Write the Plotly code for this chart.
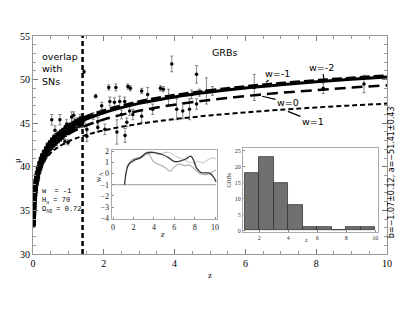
import plotly.graph_objects as go

# ---------------- data ----------------
model_z = [0.01, 0.02, 0.05, 0.1, 0.2, 0.3, 0.5, 0.7, 1.0, 1.4, 2, 3, 4, 5, 6, 7, 8, 9, 10]
mu_w_m1 = [33.43, 34.95, 36.99, 38.57, 40.23, 41.22, 42.51, 43.38, 44.35, 45.29, 46.2, 47.27, 48.01, 48.57, 49.03, 49.41, 49.74, 50.03, 50.29]
mu_w_m2 = [33.44, 34.97, 37.03, 38.64, 40.36, 41.40, 42.75, 43.63, 44.60, 45.52, 46.41, 47.45, 48.17, 48.72, 49.17, 49.54, 49.87, 50.15, 50.41]
mu_w_0 = [33.41, 34.93, 36.93, 38.46, 40.01, 40.93, 42.11, 42.90, 43.75, 44.57, 45.43, 46.42, 47.12, 47.67, 48.11, 48.48, 48.80, 49.09, 49.34]
mu_w_1 = [33.35, 34.85, 36.83, 38.30, 39.74, 40.57, 41.59, 42.23, 42.90, 43.52, 44.18, 44.93, 45.47, 45.89, 46.24, 46.54, 46.81, 47.04, 47.25]

sn_z = [0.01, 0.012, 0.014, 0.016, 0.018, 0.02, 0.022, 0.025, 0.028, 0.03, 0.033, 0.036, 0.04, 0.045,
        0.05, 0.055, 0.06, 0.07, 0.08, 0.09, 0.1, 0.11, 0.12, 0.13, 0.15, 0.17, 0.19, 0.21, 0.23, 0.25,
        0.27, 0.3, 0.32, 0.35, 0.38, 0.4, 0.43, 0.46, 0.49, 0.52, 0.55, 0.58, 0.61, 0.64, 0.67, 0.7,
        0.73, 0.76, 0.8, 0.83, 0.86, 0.9, 0.93, 0.96, 1.0, 1.03, 1.06, 1.1, 1.14, 1.18, 1.22, 1.26,
        1.3, 1.35, 1.39]
sn_mu = [33.6, 33.5, 34.4, 34.3, 34.9, 34.7, 35.3, 35.2, 35.9, 35.6, 36.3, 36.1, 36.7, 36.5,
         37.2, 36.9, 37.6, 37.5, 38.3, 38.1, 38.8, 38.5, 39.2, 38.9, 39.8, 39.6, 40.3, 40.1, 40.8, 40.6,
         41.2, 41.0, 41.6, 41.4, 42.0, 41.7, 42.4, 42.1, 42.7, 42.4, 43.0, 42.7, 43.3, 42.9, 43.5, 43.2,
         43.7, 43.4, 43.9, 43.6, 44.1, 43.9, 44.4, 44.1, 44.5, 44.3, 44.7, 44.5, 44.9, 44.7, 45.1, 44.9,
         45.2, 45.0, 45.4]
sn_err = [0.3, 0.4, 0.3, 0.4, 0.3, 0.4, 0.3, 0.4, 0.3, 0.4, 0.3, 0.4, 0.3, 0.4,
          0.3, 0.4, 0.3, 0.4, 0.3, 0.4, 0.3, 0.4, 0.3, 0.4, 0.3, 0.4, 0.3, 0.4, 0.3, 0.4,
          0.3, 0.4, 0.3, 0.4, 0.3, 0.4, 0.3, 0.4, 0.3, 0.4, 0.3, 0.4, 0.3, 0.4, 0.3, 0.4,
          0.3, 0.4, 0.3, 0.4, 0.3, 0.4, 0.3, 0.4, 0.3, 0.4, 0.3, 0.4, 0.3, 0.4, 0.3, 0.4,
          0.3, 0.4, 0.3]

grb_z = [0.53, 0.62, 0.76, 0.9, 0.95, 0.99, 1.09, 1.15, 1.23, 1.33, 1.38, 1.44, 1.46, 1.52, 1.52,
         1.7, 1.77, 1.83, 1.83, 1.94, 2.03, 2.14, 2.17, 2.3, 2.34, 2.37, 2.45, 2.5, 2.59, 2.6,
         2.65, 2.68, 2.75, 2.73, 2.82, 3.07, 3.07, 3.24, 3.38, 3.6, 3.68, 3.83, 3.92, 4.06,
         4.23, 4.42, 4.48, 4.62, 4.62, 4.7, 4.9, 5.07, 6.25, 8.2, 9.35]
grb_mu = [45.4, 44.2, 45.4, 42.9, 44.9, 42.8, 45.7, 45.9, 45.1, 45.6, 44.9, 50.9, 45.4, 44.3, 43.5,
          45.8, 48.1, 45.2, 44.5, 47.0, 44.3, 49.1, 47.5, 47.4, 49.1, 44.0, 47.5, 46.0, 47.5, 43.6,
          45.1, 49.2, 49.0, 46.4, 46.0, 48.7, 45.8, 48.3, 46.6, 49.0, 48.9, 48.0, 51.8, 46.6,
          46.4, 46.6, 48.3, 50.6, 47.2, 48.5, 48.7, 48.7, 49.1, 49.0, 49.5]
grb_err = [0.6, 0.5, 0.6, 0.3, 0.5, 0.3, 0.6, 0.4, 0.5, 0.4, 0.4, 0.2, 0.4, 0.6, 0.6,
           0.4, 0.2, 0.5, 0.5, 0.4, 0.6, 0.3, 0.5, 0.5, 0.4, 1.4, 0.6, 0.5, 0.5, 0.8,
           0.5, 0.3, 0.3, 0.5, 0.6, 0.3, 0.7, 0.8, 0.6, 0.3, 0.3, 0.9, 0.9, 1.2,
           0.9, 1.2, 0.5, 1.0, 0.6, 0.4, 1.5, 0.5, 1.5, 0.6, 1.0]

overlap_z = 1.4

# inset 1: reconstructed w(z)
wz_dark_z = [1.12, 1.52, 2.18, 2.67, 3.17, 3.66, 4.16, 4.82, 5.48, 5.97, 6.47, 7.13, 7.62, 7.86, 8.19, 8.61, 9.44, 9.83, 10.1]
wz_dark_w = [-1.0, 0.79, 1.24, 1.4, 1.79, 1.9, 1.85, 1.7, 1.4, 1.09, 1.09, 1.3, 1.55, 1.25, 0.48, 0.09, 0.03, -0.27, -0.73]
wz_mid_z = [1.3, 1.8, 2.5, 3.0, 3.33, 3.66, 4.0, 4.5, 5.0, 5.6, 6.0, 6.5, 7.0, 7.5, 8.0, 8.5, 9.1, 9.6, 10.1]
wz_mid_w = [0.5, 1.2, 1.4, 1.55, 1.95, 1.5, 1.05, 0.8, 0.6, 0.2, 0.6, 0.85, 0.7, 0.75, 0.4, 0.0, -0.1, 0.05, 0.35]
wz_light_z = [2.0, 3.0, 4.0, 4.5, 5.0, 5.5, 6.0, 6.5, 7.0, 7.5, 8.0, 8.3, 8.8, 9.3, 9.77, 10.1]
wz_light_w = [1.3, 1.6, 1.9, 1.7, 1.85, 1.9, 1.6, 1.4, 1.2, 1.0, 0.95, 1.09, 0.95, 1.24, 1.4, 1.3]
w_ref = -1
w_inset_range = [0, 10.1]

# inset 2: histogram of GRB redshifts
hist_centers = [1.5, 2.5, 3.5, 4.5, 5.5, 6.5, 7.5, 8.5, 9.5]
hist_counts = [18, 23, 15, 8, 1, 1, 0, 1, 1]

# ---------------- figure ----------------
fig = go.Figure()

fig.add_trace(go.Scatter(
    x=sn_z, y=sn_mu, mode="markers",
    marker=dict(color="black", size=5, symbol="square"),
    error_y=dict(type="data", array=sn_err, color="black", thickness=1.5, width=2),
    showlegend=False))

fig.add_trace(go.Scatter(
    x=grb_z, y=grb_mu, mode="markers",
    marker=dict(color="black", size=3.5, symbol="circle"),
    error_y=dict(type="data", array=grb_err, color="#555", thickness=0.7, width=1.5),
    showlegend=False))

fig.add_trace(go.Scatter(x=model_z, y=mu_w_1, mode="lines", line=dict(color="black", width=2, dash="5px,3px", shape="spline"), showlegend=False))
fig.add_trace(go.Scatter(x=model_z, y=mu_w_0, mode="lines", line=dict(color="black", width=2.5, dash="11px,6px", shape="spline"), showlegend=False))
fig.add_trace(go.Scatter(x=model_z, y=mu_w_m1, mode="lines", line=dict(color="black", width=3, shape="spline"), showlegend=False))
fig.add_trace(go.Scatter(x=model_z, y=mu_w_m2, mode="lines", line=dict(color="black", width=3.5, dash="10px,4px", shape="spline"), showlegend=False))

fig.add_trace(go.Scatter(x=[overlap_z, overlap_z], y=[30, 55], mode="lines",
                         line=dict(color="black", width=2.5, dash="5px,3px"), showlegend=False))

# inset 1
fig.add_trace(go.Scatter(x=w_inset_range, y=[w_ref, w_ref], mode="lines", line=dict(color="#999", width=1),
                         xaxis="x2", yaxis="y2", showlegend=False))
fig.add_trace(go.Scatter(x=wz_light_z, y=wz_light_w, mode="lines", line=dict(color="#ccc", width=1.1, shape="spline"),
                         xaxis="x2", yaxis="y2", showlegend=False))
fig.add_trace(go.Scatter(x=wz_mid_z, y=wz_mid_w, mode="lines", line=dict(color="#aaa", width=1.1, shape="spline"),
                         xaxis="x2", yaxis="y2", showlegend=False))
fig.add_trace(go.Scatter(x=wz_dark_z, y=wz_dark_w, mode="lines", line=dict(color="#333", width=1.3, shape="spline"),
                         xaxis="x2", yaxis="y2", showlegend=False))

# inset 2
fig.add_trace(go.Bar(x=hist_centers, y=hist_counts, width=1.0,
                     marker=dict(color="#707070", line=dict(color="#333", width=0.8)),
                     xaxis="x3", yaxis="y3", showlegend=False))

serif = "Liberation Serif"
comic = "Comic Sans MS, DejaVu Sans"

common = dict(showgrid=False, zeroline=False, automargin=False, showline=True)

fig.update_layout(
    width=409, height=316, autosize=False,
    margin=dict(l=25, r=30, t=28, b=70, autoexpand=False),
    paper_bgcolor="white", plot_bgcolor="white",
    bargap=0,
    xaxis=dict(domain=[0, 1], range=[0, 10], tickvals=[0, 2, 4, 6, 8, 10],
               ticks="inside", ticklen=5, tickcolor="#777", linecolor="#999", linewidth=1,
               mirror="ticks", minor=dict(dtick=0.5, ticks="inside", ticklen=3, tickcolor="#999"),
               tickfont=dict(family=serif, size=10, color="black"), **common),
    yaxis=dict(domain=[0, 1], range=[30, 55], tickvals=[30, 35, 40, 45, 50, 55],
               ticks="inside", ticklen=5, tickcolor="#777", linecolor="#999", linewidth=1,
               mirror="ticks", minor=dict(dtick=1, ticks="inside", ticklen=3, tickcolor="#999"),
               tickfont=dict(family=serif, size=10, color="black"), **common),
    xaxis2=dict(domain=[0.222, 0.520], range=[-0.15, 10.2], anchor="y2", tickvals=[0, 2, 4, 6, 8, 10],
                ticks="inside", ticklen=2, tickcolor="#888", linecolor="#aaa", mirror=True,
                tickfont=dict(family=serif, size=8, color="#222"), **common),
    yaxis2=dict(domain=[0.161, 0.477], range=[-4.05, 2.1], anchor="x2", dtick=1,
                ticks="inside", ticklen=2, tickcolor="#888", linecolor="#aaa", mirror=True,
                tickfont=dict(family=serif, size=8, color="#222"), **common),
    xaxis3=dict(domain=[0.593, 0.975], range=[0.88, 10.2], anchor="y3", tickvals=[2, 4, 6, 8, 10],
                ticks="inside", ticklen=2, tickcolor="#888", linecolor="#aaa", mirror=True,
                tickfont=dict(family=serif, size=6, color="#333"), **common),
    yaxis3=dict(domain=[0.101, 0.486], range=[-0.5, 25.9], anchor="x3", tickvals=[0, 5, 10, 15, 20, 25],
                ticks="inside", ticklen=2, tickcolor="#888", linecolor="#aaa", mirror=True,
                tickfont=dict(family=serif, size=6, color="#333"), **common),
)

ann = []
ann.append(dict(x=0.2, y=51.2, xref="x", yref="y", text="overlap<br>with<br>SNs", showarrow=False,
                xanchor="left", yanchor="middle", align="left", font=dict(family=comic, size=9.5, color="black")))
ann.append(dict(x=5.42, y=53.16, xref="x", yref="y", text="GRBs", showarrow=False,
                font=dict(family=comic, size=9.5, color="black")))
for txt, hx, hy, axp, ayp in [("w=-1", 6.58, 49.7, 12, -9),
                              ("w=-2", 8.22, 50.05, -2, -12),
                              ("w=0", 6.47, 48.09, 26, 6),
                              ("w=1", 7.2, 46.36, 25, 10)]:
    ann.append(dict(x=hx, y=hy, xref="x", yref="y", text=txt, showarrow=True, arrowhead=0,
                    arrowwidth=1.2, arrowcolor="black", ax=axp, ay=ayp,
                    font=dict(family=comic, size=9.5, color="black")))
ann.append(dict(x=0.2, y=36.1, xref="x", yref="y",
                text="w&nbsp;&nbsp;= -1<br>H<sub>o</sub> = 70<br>Ω<sub>ΛO</sub> = 0.72",
                showarrow=False, xanchor="left", yanchor="middle", align="left",
                font=dict(family="Liberation Mono", size=7, color="black")))
ann.append(dict(x=-0.063, y=0.43, xref="paper", yref="paper", text="μ", showarrow=False, textangle=-90,
                font=dict(family=serif, size=9, color="black")))
ann.append(dict(x=0.5, y=-0.13, xref="paper", yref="paper", text="z", showarrow=False,
                font=dict(family=serif, size=9, color="black")))
ann.append(dict(x=1.03, y=0.376, xref="paper", yref="paper", text="b=−1.07±0.12, a=−51.41±0.43",
                showarrow=False, textangle=-90, font=dict(family="DejaVu Sans", size=8, color="black")))
ann.append(dict(x=0.167, y=0.32, xref="paper", yref="paper", text="w<sub>Λ</sub>", showarrow=False,
                textangle=-90, font=dict(family=serif, size=8, color="#222")))
ann.append(dict(x=0.367, y=0.06, xref="paper", yref="paper", text="<i>z</i>", showarrow=False,
                font=dict(family=serif, size=9, color="#222")))
ann.append(dict(x=0.554, y=0.294, xref="paper", yref="paper", text="GRBs", showarrow=False,
                textangle=-90, font=dict(family=serif, size=6, color="#333")))
ann.append(dict(x=0.782, y=0.041, xref="paper", yref="paper", text="z", showarrow=False,
                font=dict(family=serif, size=6, color="#333")))
fig.update_layout(annotations=ann)

fig.write_html("out.html")
